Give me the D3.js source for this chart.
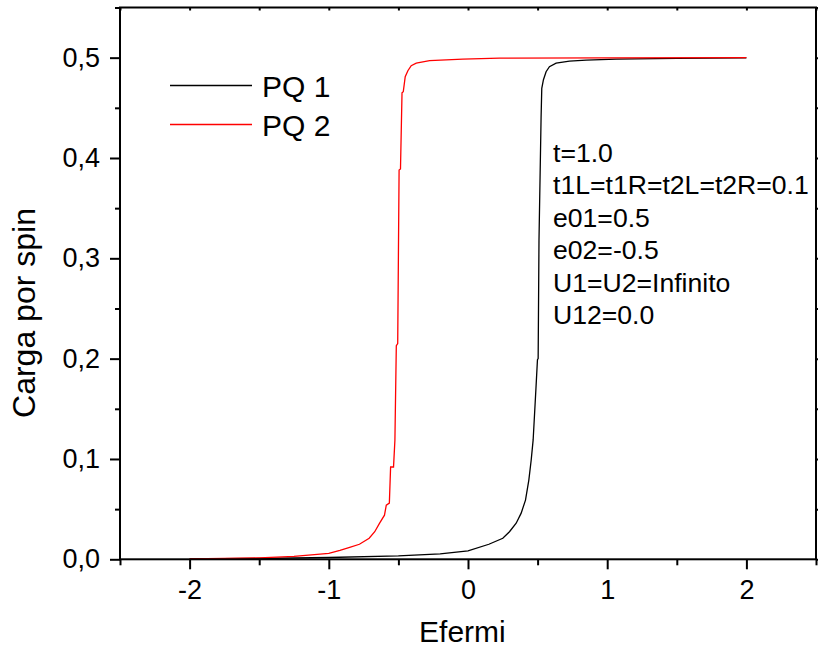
<!DOCTYPE html>
<html>
<head>
<meta charset="utf-8">
<script src="https://cdn.jsdelivr.net/npm/d3@7"></script>
<style>
  body { margin: 0; background: #fff; }
  svg { display: block; }
  text { font-family: "Liberation Sans", Arial, sans-serif; fill: #000; }
</style>
</head>
<body>
<div id="chart"></div>
<script>
// PQ 1 : [Efermi, carga]
const pq1 = [
  [-2.0, 0.0003], [-1.5, 0.0008], [-1.0, 0.0018], [-0.5, 0.0035], [-0.2, 0.0055],
  [0.0, 0.0085], [0.15, 0.015], [0.25, 0.021], [0.298, 0.0275], [0.346, 0.036],
  [0.382, 0.046], [0.413, 0.059], [0.437, 0.079], [0.454, 0.099], [0.468, 0.119],
  [0.488, 0.17], [0.499, 0.199], [0.504, 0.20], [0.510, 0.318], [0.525, 0.44],
  [0.530, 0.4695], [0.542, 0.478], [0.561, 0.486], [0.585, 0.491], [0.633, 0.4945],
  [0.729, 0.4965], [0.849, 0.4975], [1.064, 0.4985], [1.5, 0.4993], [2.0, 0.4998]
]

// PQ 2
const pq2 = [
  [-2.0, 0.0003], [-1.75, 0.0008], [-1.5, 0.0015], [-1.25, 0.003], [-1.0, 0.006],
  [-0.92, 0.009], [-0.85, 0.012], [-0.78, 0.015], [-0.71, 0.021], [-0.67, 0.0275],
  [-0.635, 0.036], [-0.60, 0.044], [-0.587, 0.054], [-0.565, 0.056], [-0.556, 0.092],
  [-0.535, 0.092], [-0.525, 0.119], [-0.515, 0.213], [-0.505, 0.215], [-0.495, 0.388],
  [-0.485, 0.389], [-0.474, 0.465], [-0.465, 0.466], [-0.451, 0.481], [-0.432, 0.487],
  [-0.408, 0.492], [-0.372, 0.4945], [-0.276, 0.497], [-0.037, 0.4985], [0.226, 0.4995],
  [1.0, 0.4998], [2.0, 0.5]
]

const xTicks = [-2, -1, 0, 1, 2]
const xMinor = [-2.5, -1.5, -0.5, 0.5, 1.5, 2.5]
const yTicks = [0, 0.1, 0.2, 0.3, 0.4, 0.5]
const yMinor = [0.05, 0.15, 0.25, 0.35, 0.45, 0.55]
const seriesNames = ["PQ 1", "PQ 2"]
const seriesColors = ["#000000", "#ff0000"]
const notes = ["t=1.0", "t1L=t1R=t2L=t2R=0.1", "e01=0.5", "e02=-0.5", "U1=U2=Infinito", "U12=0.0"]

const W = 818, H = 650
const margin = { top: 7.5, right: 2, bottom: 90.7, left: 120 }
const iw = W - margin.left - margin.right
const ih = H - margin.top - margin.bottom

const svg = d3.select("#chart").append("svg")
  .attr("width", W)
  .attr("height", H)

const g = svg.append("g")
  .attr("transform", `translate(${margin.left},${margin.top})`)

const x = d3.scaleLinear().domain([-2.5, 2.5]).range([0, iw])
const y = d3.scaleLinear().domain([0, 0.55]).range([ih, 0])

const fmt = d => d3.format(".1f")(d).replace(".", ",")

// curves
const line = d3.line().x(d => x(d[0])).y(d => y(d[1]))
;[pq1, pq2].forEach((s, i) => {
  g.append("path")
    .datum(s)
    .attr("d", line)
    .attr("fill", "none")
    .attr("stroke", seriesColors[i])
    .attr("stroke-width", 1.3)
})

// axes
function styleAxis(sel) {
  sel.select(".domain").remove()
  sel.selectAll("line").attr("stroke", "#000").attr("stroke-width", 2)
}

g.append("g")
  .attr("transform", `translate(0,${ih})`)
  .call(d3.axisBottom(x).tickValues(xTicks).tickSize(10).tickPadding(10.5).tickFormat(d => String(d)))
  .call(styleAxis)
  .selectAll("text").style("font-size", "27px")

g.append("g")
  .attr("transform", `translate(0,${ih})`)
  .call(d3.axisBottom(x).tickValues(xMinor).tickSize(6).tickFormat(""))
  .call(styleAxis)

g.append("g")
  .call(d3.axisLeft(y).tickValues(yTicks).tickSize(10).tickPadding(10).tickFormat(fmt))
  .call(styleAxis)
  .selectAll("text").style("font-size", "27px")

g.append("g")
  .call(d3.axisLeft(y).tickValues(yMinor).tickSize(5).tickFormat(""))
  .call(styleAxis)

// mirrored top / right ticks
g.append("g")
  .call(d3.axisBottom(x).tickValues(xTicks.concat(xMinor)).tickSize(3).tickFormat(""))
  .call(styleAxis)

g.append("g")
  .attr("transform", `translate(${iw},0)`)
  .call(d3.axisRight(y).tickValues(yTicks.concat(yMinor)).tickSize(6).tickFormat(""))
  .call(styleAxis)

// frame
g.append("rect")
  .attr("width", iw)
  .attr("height", ih)
  .attr("fill", "none")
  .attr("stroke", "#000")
  .attr("stroke-width", 2)

// axis titles
svg.append("text")
  .attr("x", margin.left + x(-0.04))
  .attr("y", 641.5)
  .attr("text-anchor", "middle")
  .style("font-size", "30px")
  .text("Efermi")

svg.append("text")
  .attr("transform", `translate(35,313) rotate(-90)`)
  .attr("text-anchor", "middle")
  .style("font-size", "32px")
  .text("Carga por spin")

// legend
const legend = g.append("g").attr("transform", "translate(50,78)")
seriesNames.forEach((name, i) => {
  const row = legend.append("g").attr("transform", `translate(0,${i * 39})`)
  row.append("line")
    .attr("x1", 0).attr("x2", 82)
    .attr("stroke", seriesColors[i])
    .attr("stroke-width", 1.3)
  row.append("text")
    .attr("x", 92)
    .attr("y", 11)
    .style("font-size", "30px")
    .text(name)
})

// parameters
const notesG = svg.append("g").attr("transform", "translate(553,161.7)")
notes.forEach((t, i) => {
  notesG.append("text")
    .attr("y", i * 32.5)
    .style("font-size", "26.6px")
    .text(t)
})
</script>
</body>
</html>
